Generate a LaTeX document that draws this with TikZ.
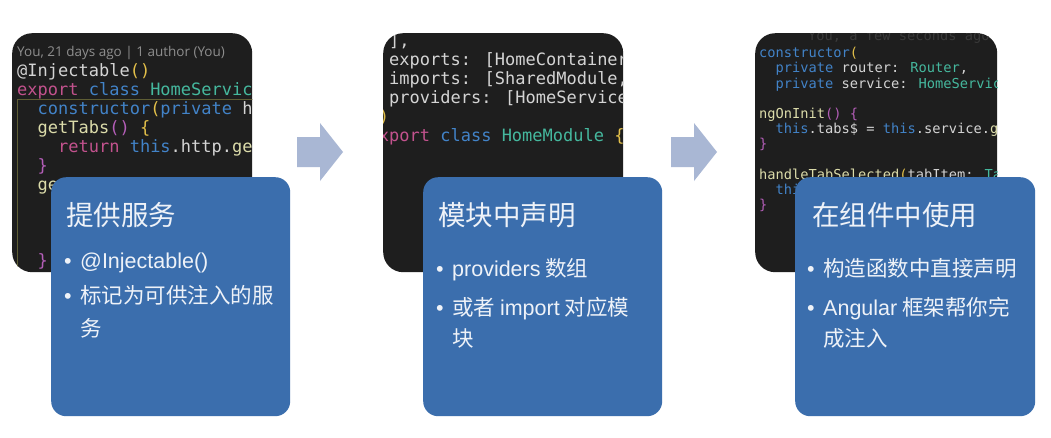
\documentclass[tikz,border=0pt]{standalone}
\usepackage{fontspec}
\usepackage{xcolor}
\setmainfont{Noto Sans CJK SC}
\newfontfamily\latinface{Liberation Sans}
\newfontfamily\codeface{DejaVu Sans Mono}
\newfontfamily\lensface{Open Sans}

\definecolor{codebg}{HTML}{1E1E1E}
\definecolor{cardblue}{HTML}{3B6EAD}
\definecolor{cardtext}{HTML}{EEF2F8}
\definecolor{arrowfill}{HTML}{A9B7D4}
\definecolor{ctext}{HTML}{D4D4D4}
\definecolor{cpink}{HTML}{C2528D}
\definecolor{cblue}{HTML}{4283C8}
\definecolor{cteal}{HTML}{45B89E}
\definecolor{cyel}{HTML}{E3C04A}
\definecolor{cfnc}{HTML}{DCDCAA}
\definecolor{cpurple}{HTML}{B45EB8}
\definecolor{lensgray}{HTML}{8E8E8E}
\definecolor{lensfaint}{HTML}{3A3A3A}
\definecolor{guide}{HTML}{5E5D34}

\newcommand\ckw[1]{\textcolor{cpink}{#1}}
\newcommand\cst[1]{\textcolor{cblue}{#1}}
\newcommand\cty[1]{\textcolor{cteal}{#1}}
\newcommand\cfn[1]{\textcolor{cfnc}{#1}}
\newcommand\cbr[1]{\textcolor{cyel}{#1}}
\newcommand\cpb[1]{\textcolor{cpurple}{#1}}
\newcommand\dotitem{\makebox[16pt][l]{{\latinface •}}}
\newcommand\noitem{\hspace*{16pt}}

\begin{document}
\begin{tikzpicture}[x=1pt, y=-1pt,
        codepanel/.style={fill=codebg, rounded corners=20pt, minimum width=240pt, minimum height=239pt, anchor=north west, inner sep=0pt},
        card/.style={fill=cardblue, rounded corners=15pt, minimum width=239pt, minimum height=239pt, anchor=north west, inner sep=0pt},
        cardtitle/.style={text=cardtext, font=\fontsize{27.5}{33}\selectfont, anchor=west, inner sep=0pt},
        item/.style={text=cardtext, font=\fontsize{21.5}{26}\selectfont, anchor=west, inner sep=0pt, text height=17.8pt, text depth=1.5pt},
        code/.style={text=ctext, font=\codeface\fontsize{17}{19}\selectfont, anchor=base west, inner sep=0pt},
        smallcode/.style={code, font=\codeface\fontsize{13.7}{15}\selectfont},
        lens/.style={text=lensgray, font=\lensface\fontsize{13.5}{15}\selectfont, anchor=base west, inner sep=0pt},
        blockarrow/.style={fill=arrowfill}
    ]

    \fill[white] (0,0) rectangle (1051,437);
    \useasboundingbox (0,0) rectangle (1051,437);

    % code screenshots
    \node[codepanel] (code1) at (12,33) {};
    \node[codepanel] (code2) at (383,33) {};
    \node[codepanel, minimum width=242pt] (code3) at (755,33) {};

    \begin{scope}
        \clip[rounded corners=20pt] (code1.north west) rectangle (code1.south east);
        \draw[guide, line width=0.8pt] (17,280) |- (260,99.5);
        \node[lens] (lens1) at (17,56) {You, 21 days ago | 1 author (You)};
        \node[code] (p1a) at (17,76) {@Injectable\cbr{()}};
        \node[code] (p1b) at (17,95) {\ckw{export} \cst{class} \cty{HomeServic}};
        \node[code] (p1c) at (17,114) {\ \ \cst{constructor}\cbr{(}\cst{private} h};
        \node[code] (p1d) at (17,133) {\ \ \cfn{getTabs}\cpb{()} \cbr{\{}};
        \node[code] (p1e) at (17,152) {\ \ \ \ \ckw{return} \cst{this}.http.\cfn{ge}};
        \node[code] (p1f) at (17,171) {\ \ \cpb{\}}};
        \node[code] (p1g) at (17,190) {\ \ \cfn{ge}};
        \node[code] (p1h) at (17,266) {\ \ \cpb{\}}};
    \end{scope}

    \begin{scope}
        \clip[rounded corners=20pt] (code2.north west) rectangle (code2.south east);
        \node[code] (p2a) at (368.5,46) {\ \ ],};
        \node[code] (p2b) at (368.5,65) {\ \ exports: [HomeContainer};
        \node[code] (p2c) at (368.5,84) {\ \ imports: [SharedModule,};
        \node[code] (p2d) at (368.5,103) {\ \ providers: [HomeService};
        \node[code] (p2e) at (368.5,122) {\cbr{\})}};
        \node[code] (p2f) at (368.5,141) {\ckw{export} \cst{class} \cty{HomeModule} \cbr{\{}};
    \end{scope}

    \begin{scope}
        \clip[rounded corners=20pt] (code3.north west) rectangle (code3.south east);
        \node[smallcode, text=lensfaint] (lens3) at (808,40.5) {You, a few seconds ago};
        \node[smallcode] (p3a) at (759,57.7) {\cst{constructor}\cbr{(}};
        \node[smallcode] (p3b) at (759,72.9) {\ \ \cst{private} router: \cty{Router},};
        \node[smallcode] (p3c) at (759,88.1) {\ \ \cst{private} service: \cty{HomeServic}};
        \node[smallcode] (p3d) at (759,118.5) {\cfn{ngOnInit}\cpb{()} \cpb{\{}};
        \node[smallcode] (p3e) at (759,133.7) {\ \ \cst{this}.tabs\$ = \cst{this}.service.\cfn{g}};
        \node[smallcode] (p3f) at (759,148.9) {\cpb{\}}};
        \node[smallcode] (p3g) at (759,179.3) {\cfn{handleTabSelected}\cbr{(}tabItem: \cty{Ta}};
        \node[smallcode] (p3h) at (759,194.5) {\ \ \cst{thi}};
        \node[smallcode] (p3i) at (759,209.7) {\cpb{\}}};
    \end{scope}

    % arrows between steps
    \foreach \dx in {0,374}
        \fill[blockarrow, shift={(\dx,0)}] (297,137) -- (320,137) -- (320,123) -- (343,152) -- (320,181) -- (320,167) -- (297,167) -- cycle;

    % blue cards
    \node[card] (svc) at (51,177) {};
    \node[cardtitle] (svc-title) at (66,215) {提供服务};
    \node[item] (svc-i1) at (64,260) {\dotitem{\latinface @Injectable()}};
    \node[item] (svc-i2) at (64,295) {\dotitem 标记为可供注入的服};
    \node[item] (svc-i3) at (64,328) {\noitem 务};

    \node[card] (mod) at (423,177) {};
    \node[cardtitle] (mod-title) at (438,215) {模块中声明};
    \node[item] (mod-i1) at (436,268) {\dotitem{\latinface providers} 数组};
    \node[item] (mod-i2) at (436,307) {\dotitem 或者 {\latinface import} 对应模};
    \node[item] (mod-i3) at (436,338) {\noitem 块};

    \node[card, minimum width=240pt] (cmp) at (795,177) {};
    \node[cardtitle] (cmp-title) at (812,215) {在组件中使用};
    \node[item] (cmp-i1) at (807,268) {\dotitem 构造函数中直接声明};
    \node[item] (cmp-i2) at (807,307) {\dotitem{\latinface Angular} 框架帮你完};
    \node[item] (cmp-i3) at (807,338) {\noitem 成注入};

\end{tikzpicture}
\end{document}
